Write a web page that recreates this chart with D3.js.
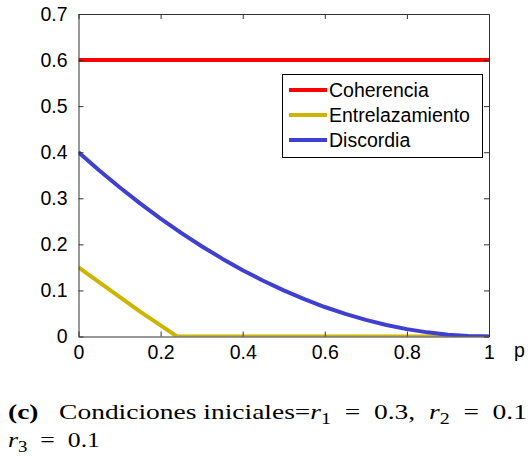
<!DOCTYPE html>
<html>
<head>
<meta charset="utf-8">
<script src="https://cdn.jsdelivr.net/npm/d3@7"></script>
<style>
  body { margin: 0; background: #fff; }
  svg text { font-family: "Liberation Sans", Arial, sans-serif; }
</style>
</head>
<body>
<div id="chart"></div>
<script>
// series
const seriesNames = ["Coherencia", "Entrelazamiento", "Discordia"];
const seriesColors = ["#ff0000", "#ccb400", "#4040d0"];

const cohP = [0, 1];
const cohV = [0.6, 0.6];

const entP = [0, 0.05, 0.1, 0.15, 0.2, 0.24, 0.5, 1];
const entV = [0.15, 0.118, 0.086, 0.054, 0.024, 0, 0, 0];

const disP = [0, 0.05, 0.1, 0.15, 0.2, 0.25, 0.3, 0.35, 0.4, 0.45, 0.5,
              0.55, 0.6, 0.65, 0.7, 0.75, 0.8, 0.85, 0.9, 0.95, 1];
const disV = [0.4, 0.361, 0.324, 0.289, 0.256, 0.225, 0.196, 0.169, 0.144, 0.121, 0.1,
              0.081, 0.064, 0.049, 0.036, 0.025, 0.016, 0.009, 0.004, 0.001, 0];

const xTicks = [0, 0.2, 0.4, 0.6, 0.8, 1];
const yTicks = [0, 0.1, 0.2, 0.3, 0.4, 0.5, 0.6, 0.7];

const width = 528, height = 460;
const plot = { left: 78.5, right: 489, top: 14, bottom: 336.5 };

const svg = d3.select("#chart").append("svg")
  .attr("width", width)
  .attr("height", height);

const x = d3.scaleLinear().domain([0, 1]).range([plot.left, plot.right]);
const y = d3.scaleLinear().domain([0, 0.7]).range([plot.bottom, plot.top]);

svg.append("clipPath").attr("id", "clip")
  .append("rect")
  .attr("x", plot.left).attr("y", plot.top)
  .attr("width", plot.right - plot.left)
  .attr("height", plot.bottom - plot.top);

const line = d3.line().x(d => x(d[0])).y(d => y(d[1]));

const series = [
  d3.zip(cohP, cohV),
  d3.zip(entP, entV),
  d3.zip(disP, disV)
];

const lines = svg.append("g").attr("clip-path", "url(#clip)");
series.forEach((s, i) => {
  lines.append("path")
    .datum(s)
    .attr("fill", "none")
    .attr("stroke", seriesColors[i])
    .attr("stroke-width", 4)
    .attr("stroke-linejoin", "round")
    .attr("d", line);
});

// axes: inward ticks on all four sides, MATLAB style
const tickLen = 5;
const axisColor = "#333";
const fontSize = 19.5;

const axBottom = svg.append("g").attr("transform", `translate(0,${plot.bottom})`)
  .call(d3.axisBottom(x).tickValues(xTicks).tickSizeInner(-tickLen).tickSizeOuter(0)
    .tickPadding(9).tickFormat(d3.format("")));
const axTop = svg.append("g").attr("transform", `translate(0,${plot.top})`)
  .call(d3.axisTop(x).tickValues(xTicks).tickSizeInner(-tickLen).tickSizeOuter(0)
    .tickFormat(""));
const axLeft = svg.append("g").attr("transform", `translate(${plot.left},0)`)
  .call(d3.axisLeft(y).tickValues(yTicks).tickSizeInner(-tickLen).tickSizeOuter(0)
    .tickPadding(11).tickFormat(d3.format("")));
const axRight = svg.append("g").attr("transform", `translate(${plot.right},0)`)
  .call(d3.axisRight(y).tickValues(yTicks).tickSizeInner(-tickLen).tickSizeOuter(0)
    .tickFormat(""));

[axBottom, axTop, axLeft, axRight].forEach(g => {
  g.select(".domain").attr("stroke", axisColor);
  g.selectAll(".tick line").attr("stroke", axisColor);
  g.selectAll(".tick text")
    .attr("fill", "#000")
    .style("font-family", "'Liberation Sans', Arial, sans-serif")
    .style("font-size", fontSize + "px");
});

svg.append("text")
  .attr("x", 514)
  .attr("y", 357)
  .style("font-size", fontSize + "px")
  .text("p");

// legend
const legend = svg.append("g");
legend.append("rect")
  .attr("x", 282.5).attr("y", 74.5)
  .attr("width", 200).attr("height", 83)
  .attr("fill", "#fff")
  .attr("stroke", "#000");

const legendY = [90, 115, 140];
seriesNames.forEach((name, i) => {
  legend.append("line")
    .attr("x1", 289).attr("x2", 327)
    .attr("y1", legendY[i]).attr("y2", legendY[i])
    .attr("stroke", seriesColors[i])
    .attr("stroke-width", 4);
  legend.append("text")
    .attr("x", 329)
    .attr("y", legendY[i])
    .attr("dy", "0.35em")
    .style("font-size", fontSize + "px")
    .text(name);
});

// caption (LaTeX-like)
const serif = "'Liberation Serif', 'DejaVu Serif', serif";
const cap = svg.append("text")
  .attr("y", 419)
  .attr("textLength", 519)
  .attr("lengthAdjust", "spacingAndGlyphs")
  .style("font-family", serif)
  .style("font-size", "22px");
cap.append("tspan").attr("x", 8).style("font-weight", "bold").text("(c)");
cap.append("tspan").text("\u2002 Condiciones iniciales=");
cap.append("tspan").style("font-style", "italic").text("r");
cap.append("tspan").attr("dy", 5).style("font-size", "16px").text("1");
cap.append("tspan").attr("dy", -5).text("\u2002=\u20020.3,\u2002");
cap.append("tspan").style("font-style", "italic").text("r");
cap.append("tspan").attr("dy", 5).style("font-size", "16px").text("2");
cap.append("tspan").attr("dy", -5).text("\u2002=\u20020.1");

const cap2 = svg.append("text")
  .attr("y", 447)
  .attr("textLength", 92)
  .attr("lengthAdjust", "spacingAndGlyphs")
  .style("font-family", serif)
  .style("font-size", "22px");
cap2.append("tspan").attr("x", 8).style("font-style", "italic").text("r");
cap2.append("tspan").attr("dy", 5).style("font-size", "16px").text("3");
cap2.append("tspan").attr("dy", -5).text("\u2002=\u20020.1");
</script>
</body>
</html>
